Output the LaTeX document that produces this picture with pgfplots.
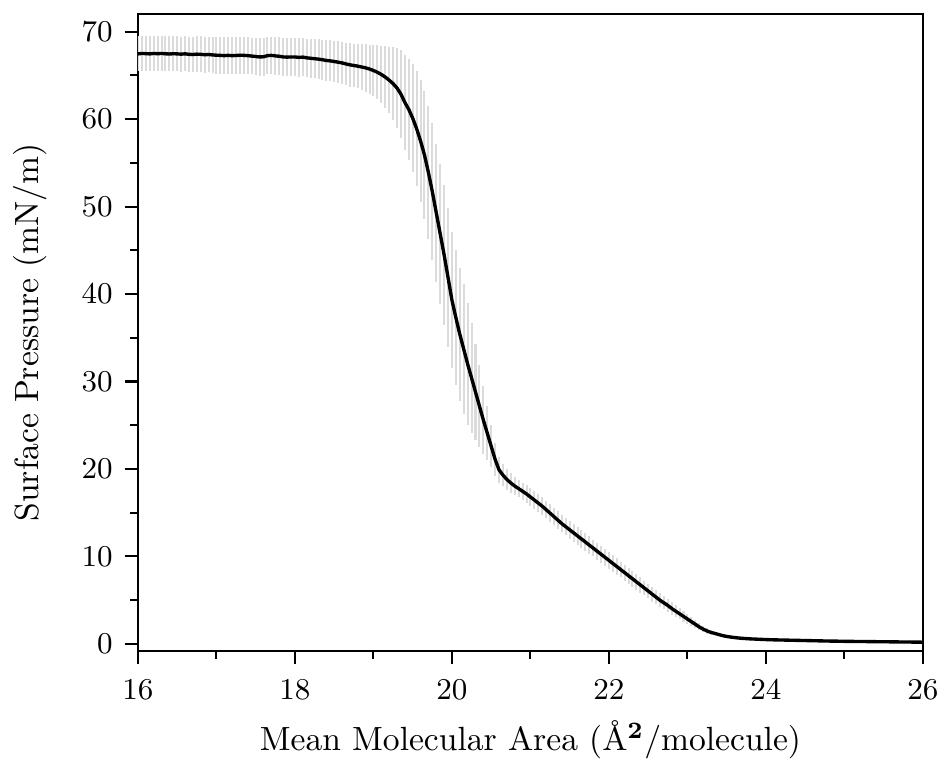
\documentclass[border=0pt]{standalone}
\usepackage{pgfplots}
\usepackage{pgfplotstable}
\pgfplotsset{compat=1.18}
\pgfplotstableread{
x y e
16.00 67.45 2.0
16.05 67.50 2.0
16.10 67.48 2.0
16.15 67.45 2.0
16.20 67.50 2.0
16.25 67.47 2.0
16.30 67.50 2.0
16.35 67.46 2.0
16.40 67.44 2.0
16.45 67.47 2.0
16.50 67.45 2.0
16.55 67.42 2.0
16.60 67.46 2.0
16.65 67.40 2.0
16.70 67.38 2.05
16.75 67.42 2.05
16.80 67.40 2.05
16.85 67.35 2.05
16.90 67.38 2.05
16.95 67.33 2.05
17.00 67.30 2.1
17.05 67.28 2.1
17.10 67.25 2.1
17.15 67.28 2.1
17.20 67.25 2.1
17.25 67.27 2.1
17.30 67.30 2.1
17.35 67.28 2.1
17.40 67.25 2.1
17.45 67.20 2.1
17.50 67.15 2.15
17.55 67.10 2.15
17.60 67.12 2.15
17.65 67.25 2.15
17.70 67.28 2.15
17.75 67.22 2.15
17.80 67.18 2.15
17.85 67.10 2.15
17.90 67.08 2.2
17.95 67.10 2.2
18.00 67.10 2.2
18.05 67.05 2.2
18.10 67.08 2.2
18.15 67.00 2.2
18.20 66.95 2.25
18.25 66.90 2.25
18.30 66.85 2.25
18.35 66.78 2.3
18.40 66.70 2.3
18.45 66.65 2.35
18.50 66.58 2.35
18.55 66.50 2.4
18.60 66.42 2.4
18.65 66.30 2.45
18.70 66.20 2.5
18.75 66.12 2.5
18.80 66.05 2.55
18.85 65.95 2.6
18.90 65.85 2.7
18.95 65.72 2.8
19.00 65.55 2.9
19.05 65.35 3.1
19.10 65.10 3.3
19.15 64.80 3.5
19.20 64.45 3.8
19.25 64.05 4.2
19.30 63.55 4.6
19.35 62.85 5.0
19.40 61.90 5.4
19.45 61.10 5.8
19.50 60.10 6.2
19.55 58.90 6.6
19.60 57.50 7.0
19.65 55.90 7.3
19.70 53.90 7.6
19.75 51.70 7.8
19.80 49.30 7.9
19.85 46.90 8.0
19.90 44.50 8.0
19.95 41.90 7.9
20.00 39.30 7.8
20.05 37.30 7.7
20.10 35.40 7.6
20.15 33.70 7.4
20.20 32.00 7.0
20.25 30.40 6.3
20.30 28.80 5.5
20.35 27.20 4.7
20.40 25.60 3.9
20.45 24.10 3.1
20.50 22.60 2.4
20.55 21.10 1.9
20.60 19.90 1.5
20.65 19.30 1.3
20.70 18.80 1.2
20.75 18.40 1.1
20.80 18.05 1.05
20.85 17.75 1.0
20.90 17.45 1.0
20.95 17.15 1.0
21.00 16.80 1.0
21.05 16.45 1.0
21.10 16.10 1.0
21.15 15.75 1.0
21.20 15.35 1.0
21.25 14.95 1.0
21.30 14.55 1.0
21.35 14.15 1.0
21.40 13.75 1.0
21.45 13.40 1.0
21.50 13.05 1.0
21.55 12.70 1.0
21.60 12.35 1.0
21.65 12.00 1.0
21.70 11.65 1.0
21.75 11.30 1.0
21.80 10.95 0.95
21.85 10.60 0.95
21.90 10.25 0.95
21.95 9.90 0.95
22.00 9.55 0.95
22.05 9.20 0.95
22.10 8.85 0.95
22.15 8.50 0.9
22.20 8.15 0.9
22.25 7.80 0.9
22.30 7.45 0.9
22.35 7.10 0.9
22.40 6.75 0.9
22.45 6.40 0.85
22.50 6.05 0.85
22.55 5.70 0.85
22.60 5.35 0.8
22.65 5.00 0.8
22.70 4.70 0.75
22.75 4.40 0.75
22.80 4.05 0.7
22.85 3.75 0.7
22.90 3.45 0.65
22.95 3.15 0.6
23.00 2.85 0.55
23.05 2.55 0.5
23.10 2.25 0.45
23.15 1.95 0.4
23.20 1.70 0.35
23.25 1.48 0.3
23.30 1.32 0.25
23.35 1.20 0.2
23.40 1.07 0.2
23.45 0.95 0.15
23.50 0.86 0.15
23.55 0.79 0.1
23.60 0.73 0.1
23.65 0.68 0.1
23.70 0.64 0.1
23.75 0.61 0.1
23.80 0.58 0.1
23.85 0.56 0.1
23.90 0.54 0.1
23.95 0.52 0.1
24.00 0.50 0.1
24.10 0.47 0.1
24.20 0.45 0.1
24.30 0.43 0.1
24.40 0.41 0.1
24.50 0.39 0.1
24.60 0.37 0.1
24.70 0.35 0.1
24.80 0.33 0.1
24.90 0.32 0.1
25.00 0.30 0.1
25.10 0.29 0.1
25.20 0.28 0.1
25.30 0.27 0.1
25.40 0.26 0.1
25.50 0.25 0.1
25.60 0.24 0.1
25.70 0.23 0.1
25.80 0.22 0.1
25.90 0.21 0.1
26.00 0.20 0.1
}\isotherm
\begin{document}
\begin{tikzpicture}
\begin{axis}[
  scale only axis,
  width=233.8pt, height=189.7pt,
  xmin=16, xmax=26, ymin=-0.8, ymax=72,
  xtick={16,18,...,26}, minor xtick={17,19,...,25},
  ytick={0,10,...,70}, minor ytick={5,15,...,65},
  tick align=outside, xtick pos=bottom, ytick pos=left,
  major tick length=4pt, minor tick length=2.3pt,
  axis line style={line width=0.6pt},
  every tick/.style={black, line width=0.6pt},
  tick label style={font=\small},
  xticklabel style={yshift=-1pt},
  every axis x label/.style={at={(axis description cs:0.5,0)}, anchor=center, yshift=-26.5pt},
  every axis y label/.style={at={(axis description cs:0,0.5)}, anchor=center, rotate=90, yshift=32.2pt},
  xlabel={Mean Molecular Area (\AA$^{\mathbf{2}}$/molecule)},
  ylabel={Surface Pressure (mN/m)},
]
\addplot[forget plot, draw=none, mark=none,
  error bars/.cd, y dir=both, y explicit, error mark=none,
  error bar style={draw=black!14, line width=0.6pt}]
  table[x=x, y=y, y error=e] {\isotherm};
\addplot[black, line width=1pt, mark=none] table[x=x, y=y] {\isotherm};
\end{axis}
\pgfresetboundingbox
\path ([shift={(-41.1pt,-32.2pt)}]current axis.south west) rectangle ([shift={(5.1pt,4.2pt)}]current axis.north east);
\end{tikzpicture}
\end{document}
